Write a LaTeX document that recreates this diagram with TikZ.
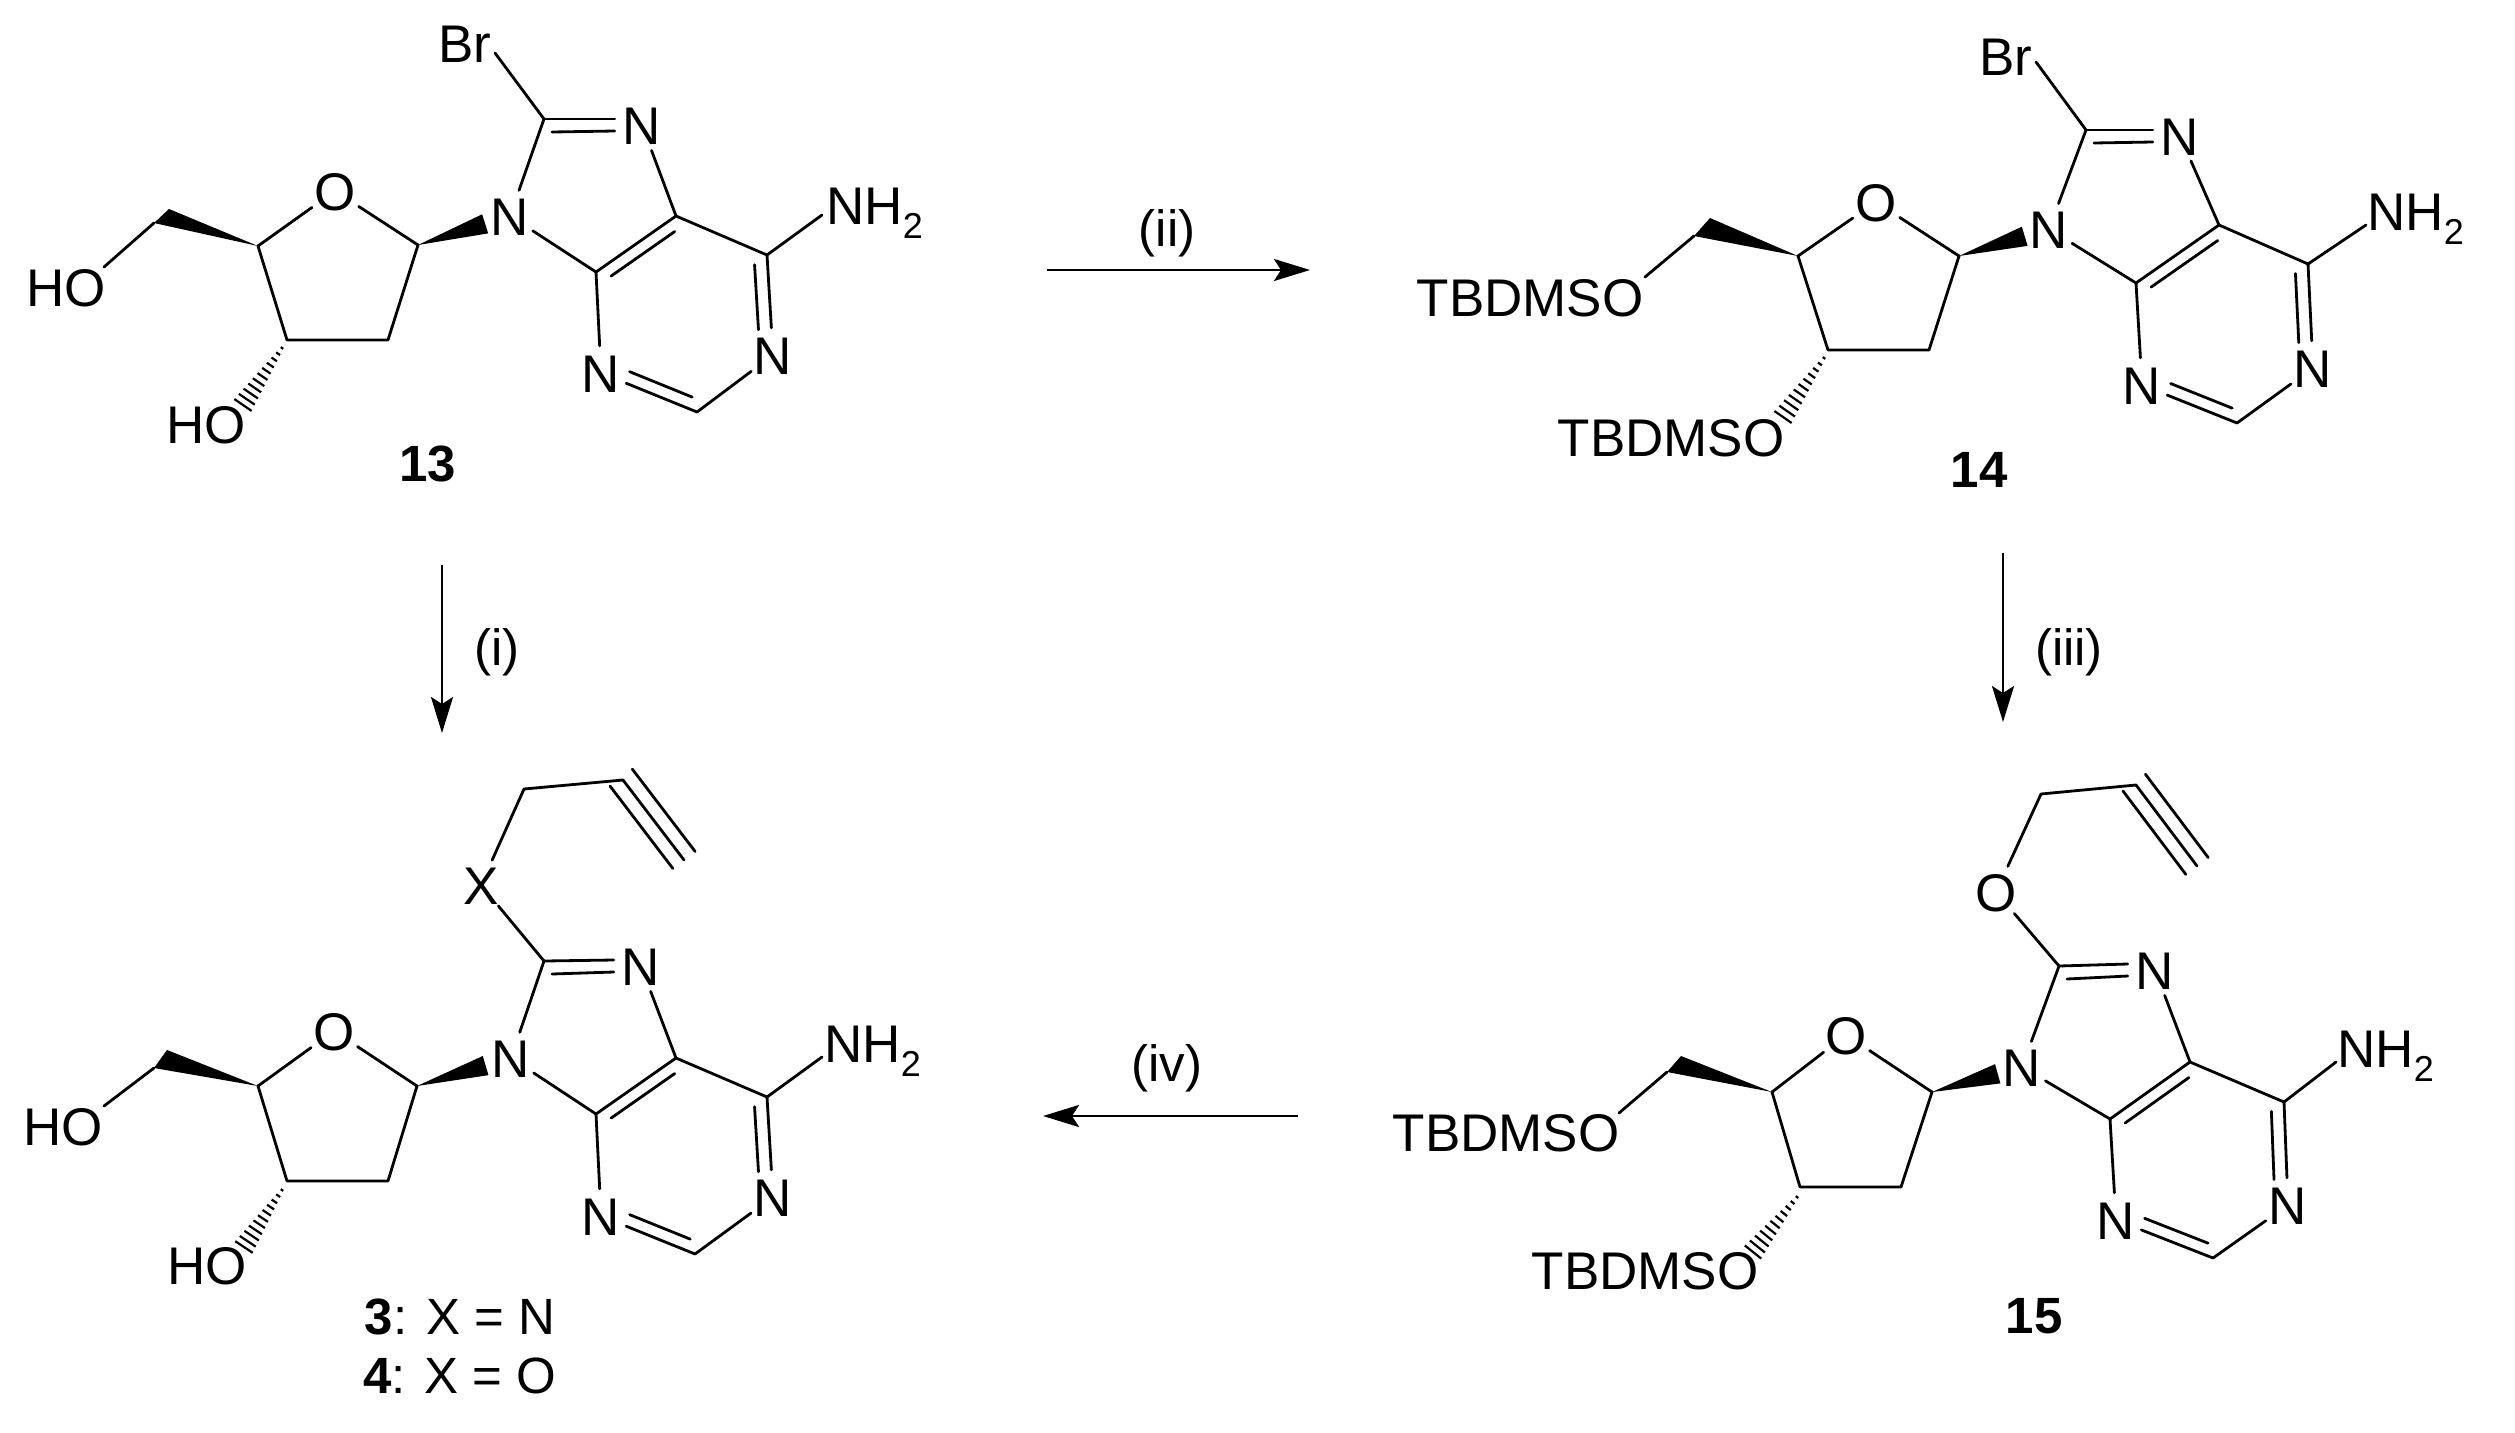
\documentclass[tikz,border=0pt]{standalone}
\usepackage{fontspec}
\setmainfont{Liberation Sans}
\usetikzlibrary{calc,arrows.meta}
\tikzset{
  bond/.style={line width=2.8pt,line cap=round,line join=round},
  atom/.style={circle,inner sep=0pt,minimum size=54pt,text height=38pt,text depth=0pt,align=center},
  txt/.style={inner sep=0pt,text height=38pt,text depth=0pt},
  amine/.style={txt,anchor=west},
  lab/.style={inner sep=0pt,text height=37pt,text depth=0pt,font=\fontsize{51}{60}\selectfont},
  rxn/.style={line width=2.8pt,-{Stealth[length=36pt,width=22pt,inset=7pt]}}
}
\newcommand{\nhtwo}{NH\raisebox{-14pt}{\fontsize{36}{36}\selectfont 2}}
% second line of a double bond: from, to, rotation side, offset, shorten start, shorten end
\newcommand{\innerline}[6]{\draw[bond,shorten <=#5pt,shorten >=#6pt] ($(#1)!#4pt!#3:(#2)$) -- ($(#2)!#4pt!-#3:(#1)$);}
\newcommand{\hashbond}[2]{%
  \coordinate (hz) at ($(#1)!1.25!(#2)$);
  \foreach \t in {0,0.1,...,1.01}{%
    \pgfmathsetmacro{\q}{\t/1.25}\pgfmathsetmacro{\w}{1.5+\t*9}%
    \draw[line width=2.2pt] ($(#1)!\q!(hz)!\w pt!90:(hz)$) -- ($(#1)!\q!(hz)!\w pt!-90:(hz)$);
  }}
% bonds shared by all four molecules; #1 is the name prefix
\newcommand{\core}[1]{%
  \draw[bond] (#1C1) -- (#1O);
  \draw[bond] (#1O) -- (#1C4);
  \draw[bond] (#1C4) -- (#1C3) -- (#1C2) -- (#1C1);
  \fill (#1C4) -- (#1wA) -- (#1wB) -- cycle;
  \draw[bond] (#1wB) -- (#1OE);
  \coordinate (#1wE) at ($(#1C1)!0.73!(#1N9)$);
  \fill (#1C1) -- ($(#1wE)!10pt!90:(#1N9)$) -- ($(#1wE)!10pt!-90:(#1N9)$) -- cycle;
  \hashbond{#1hS}{#1hE}
  \draw[bond] (#1C8) -- (#1N9);
  \draw[bond] (#1N9) -- (#1Cf);
  \draw[bond] (#1Cf) -- (#1N3);
  \draw[bond] (#1N3) -- (#1Ct);
  \draw[bond] (#1Ct) -- (#1N1);
  \draw[bond] (#1N1) -- (#1Cs);
  \draw[bond] (#1Cs) -- (#1Cv);
  \draw[bond] (#1Cv) -- (#1N7);
  \draw[bond] (#1Cf) -- (#1Cv);
  \draw[bond] (#1Cs) -- (#1NE);
  \draw[bond] (#1C8) -- ($(#1N7.west)+(0,-6)$);
  \draw[bond] ($(#1C8)+(8,13)$) -- ($(#1N7.west)+(0,6)$);
  \innerline{#1Cf}{#1Cv}{-90}{12}{10}{10}
  \innerline{#1Cs}{#1N1}{-90}{13}{9}{26}
  \innerline{#1N3}{#1Ct}{90}{12}{26}{10}
}
\begin{document}
\begin{tikzpicture}[x=1pt,y=-1pt,font=\fontsize{53}{60}\selectfont]
\fill[white] (0,0) rectangle (2515,1432);
\useasboundingbox (0,0) rectangle (2515,1432);

% ---------- 13 ----------
\coordinate (aC8) at (544,119); \coordinate (aCv) at (676,216); \coordinate (aCs) at (767,255);
\coordinate (aCf) at (596,272); \coordinate (aCt) at (697,412);
\coordinate (aC1) at (418,245); \coordinate (aC2) at (388,340); \coordinate (aC3) at (287,340); \coordinate (aC4) at (258,246);
\coordinate (awA) at (169,209); \coordinate (awB) at (154,223);
\coordinate (aOE) at (104,267); \coordinate (aNE) at (822,215); \coordinate (aBrE) at (495,53);
\coordinate (ahS) at (282,348); \coordinate (ahE) at (243,405);
\node[atom] (aN7) at (642,125) {N};
\node[atom] (aN9) at (510,216) {N};
\node[atom] (aN3) at (601,373) {N};
\node[atom] (aN1) at (773,355) {N};
\node[atom] (aO) at (335,191) {O};
\node[txt] (aBr) at (465,43) {Br};
\node[amine] (aNH) at (826,205) {\nhtwo};
\node[txt] (aHOa) at (66,287) {HO};
\node[txt] (aHOb) at (206,424) {HO};
\node[lab,font=\fontsize{51}{60}\selectfont\bfseries] (alabel) at (428,463) {13};
\core{a}
\draw[bond] (aC8) -- (aBrE);

% ---------- 14 ----------
\coordinate (bC8) at (2086,130); \coordinate (bCv) at (2219,225); \coordinate (bCs) at (2308,264);
\coordinate (bCf) at (2136,283); \coordinate (bCt) at (2237,423);
\coordinate (bC1) at (1959,256); \coordinate (bC2) at (1929,350); \coordinate (bC3) at (1828,350); \coordinate (bC4) at (1798,256);
\coordinate (bwA) at (1710,218); \coordinate (bwB) at (1694,236);
\coordinate (bOE) at (1645,277); \coordinate (bNE) at (2366,225); \coordinate (bBrE) at (2036,62);
\coordinate (bhS) at (1824,358); \coordinate (bhE) at (1783,417);
\node[atom] (bN7) at (2180,136) {N};
\node[atom] (bN9) at (2049,229) {N};
\node[atom] (bN3) at (2142,385) {N};
\node[atom] (bN1) at (2313,368) {N};
\node[atom] (bO) at (1876,202) {O};
\node[txt] (bBr) at (2006,56) {Br};
\node[amine] (bNH) at (2367,211) {\nhtwo};
\node[txt] (bTa) at (1530,297) {TBDMSO};
\node[txt] (bTb) at (1671,437) {TBDMSO};
\node[lab,font=\fontsize{51}{60}\selectfont\bfseries] (blabel) at (1979,469) {14};
\core{b}
\draw[bond] (bC8) -- (bBrE);

% ---------- 3 / 4 ----------
\coordinate (cC8) at (544,961); \coordinate (cCv) at (676,1058); \coordinate (cCs) at (767,1097);
\coordinate (cCf) at (596,1114); \coordinate (cCt) at (695,1254);
\coordinate (cC1) at (417,1086); \coordinate (cC2) at (388,1181); \coordinate (cC3) at (287,1181); \coordinate (cC4) at (258,1086);
\coordinate (cwA) at (167,1050); \coordinate (cwB) at (154,1068);
\coordinate (cOE) at (104,1106); \coordinate (cNE) at (822,1057);
\coordinate (chS) at (282,1190); \coordinate (chE) at (244,1247);
\coordinate (cCH) at (524,789); \coordinate (cTa) at (623,780); \coordinate (cTz) at (684,860);
\node[atom] (cN7) at (641,966) {N};
\node[atom] (cN9) at (511,1058) {N};
\node[atom] (cN3) at (601,1216) {N};
\node[atom] (cN1) at (773,1197) {N};
\node[atom] (cO) at (334,1031) {O};
\node[atom] (cX) at (481,885) {X};
\node[amine] (cNH) at (824,1043) {\nhtwo};
\node[txt] (cHOa) at (63,1126) {HO};
\node[txt] (cHOb) at (207,1265) {HO};
\node[lab] (clabela) at (460,1316) {\textbf{3}: X = N};
\node[lab] (clabelb) at (460,1375) {\textbf{4}: X = O};
\core{c}
\draw[bond] (cC8) -- (cX);
\draw[bond] (cX) -- (cCH) -- (cTa) -- (cTz);
\innerline{cTa}{cTz}{90}{14}{-3}{0}
\innerline{cTa}{cTz}{-90}{14}{-3}{0}

% ---------- 15 ----------
\coordinate (dC8) at (2059,966); \coordinate (dCv) at (2190,1062); \coordinate (dCs) at (2284,1102);
\coordinate (dCf) at (2110,1119); \coordinate (dCt) at (2213,1258);
\coordinate (dC1) at (1932,1092); \coordinate (dC2) at (1901,1187); \coordinate (dC3) at (1800,1187); \coordinate (dC4) at (1772,1092);
\coordinate (dwA) at (1681,1056); \coordinate (dwB) at (1667,1072);
\coordinate (dOE) at (1619,1113); \coordinate (dNE) at (2336,1062);
\coordinate (dhS) at (1797,1197); \coordinate (dhE) at (1753,1252);
\coordinate (dCH) at (2041,794); \coordinate (dTa) at (2136,785); \coordinate (dTz) at (2197,866);
\node[atom] (dN7) at (2155,970) {N};
\node[atom] (dN9) at (2022,1067) {N};
\node[atom] (dN3) at (2116,1220) {N};
\node[atom] (dN1) at (2288,1205) {N};
\node[atom] (dO) at (1846,1035) {O};
\node[atom] (dOx) at (1996,892) {O};
\node[amine] (dNH) at (2337,1048) {\nhtwo};
\node[txt] (dTa1) at (1506,1132) {TBDMSO};
\node[txt] (dTb1) at (1645,1270) {TBDMSO};
\node[lab,font=\fontsize{51}{60}\selectfont\bfseries] (dlabel) at (2034,1315) {15};
\core{d}
\draw[bond] (dC8) -- (dOx);
\draw[bond] (dOx) -- (dCH) -- (dTa) -- (dTz);
\innerline{dTa}{dTz}{90}{14}{-3}{0}
\innerline{dTa}{dTz}{-90}{14}{-3}{0}

% ---------- reaction arrows ----------
\coordinate (r2s) at (1047,270); \coordinate (r2e) at (1310,270);
\coordinate (r1s) at (442,565);  \coordinate (r1e) at (442,733);
\coordinate (r3s) at (2003,553); \coordinate (r3e) at (2003,722);
\coordinate (r4s) at (1298,1116); \coordinate (r4e) at (1043,1116);
\draw[rxn] (r2s) -- (r2e);
\draw[rxn] (r1s) -- (r1e);
\draw[rxn] (r3s) -- (r3e);
\draw[rxn] (r4s) -- (r4e);
\node[lab] (l2) at (1167,228) {(ii)};
\node[lab] (l1) at (497,647) {(i)};
\node[lab] (l3) at (2069,647) {(iii)};
\node[lab] (l4) at (1167,1063) {(iv)};
\end{tikzpicture}
\end{document}
